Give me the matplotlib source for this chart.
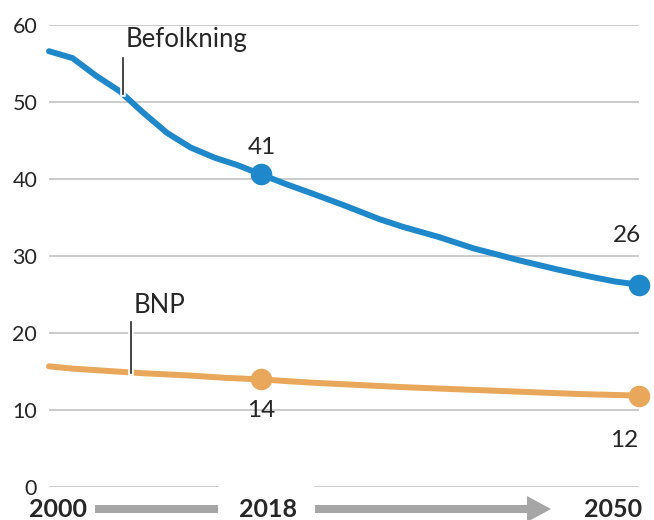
import matplotlib
matplotlib.use("Agg")
from matplotlib import pyplot as plt
from matplotlib import patheffects as pe
from matplotlib.patches import FancyArrow
from matplotlib.transforms import Affine2D

plt.rcParams['font.family'] = ['Lato', 'DejaVu Sans']

# Befolkning (population) and BNP (GDP) shares
pop_years = [2000, 2002, 2004, 2006, 2008, 2010, 2012, 2014, 2016, 2018,
             2020, 2022, 2025, 2028, 2030, 2033, 2036, 2040, 2043, 2046,
             2048, 2050]
pop_values = [56.6, 55.7, 53.4, 51.4, 48.6, 46.0, 44.1, 42.8, 41.8, 40.6,
              39.4, 38.3, 36.6, 34.8, 33.8, 32.5, 31.0, 29.4, 28.3, 27.3,
              26.7, 26.3]
gdp_years = [2000, 2002, 2005, 2008, 2012, 2015, 2018, 2022, 2026, 2030,
             2035, 2040, 2045, 2050]
gdp_values = [15.7, 15.4, 15.1, 14.8, 14.5, 14.2, 14.0, 13.6, 13.3, 13.0,
              12.7, 12.4, 12.1, 11.9]

marker_years = [2018, 2050]
pop_marks = [40.6, 26.3]
gdp_marks = [14.0, 11.9]
pop_labels = ["41", "26"]
gdp_labels = ["14", "12"]
yticks = [0, 10, 20, 30, 40, 50, 60]
period_labels = ["2000", "2018", "2050"]

BLUE = '#1f88ca'
ORANGE = '#e8a75b'
GRID = '#bdbdbd'
TEXT = '#262626'
ARROW = '#a6a6a6'

fig = plt.figure(figsize=(6.54, 5.2), dpi=100)
ax = fig.add_axes([49 / 654, 32.7 / 520, 590 / 654, 462.3 / 520])
px = Affine2D().scale(1 / 100) + fig.dpi_scale_trans  # pixel coords from bottom-left

ax.set_xlim(2000, 2050)
ax.set_ylim(0, 60)
for s in ax.spines.values():
    s.set_visible(False)
ax.set_xticks([])
ax.set_yticks(yticks)
ax.tick_params(axis='y', length=0, pad=8.5, labelsize=15.5, labelcolor=TEXT)

for t in yticks[1:]:
    ax.axhline(t, color=GRID, lw=1.1, zorder=1)
# zero line has a gap around the middle label
ax.axhline(0, xmin=0, xmax=(218 - 49) / 590, color=GRID, lw=1.1, zorder=1)
ax.axhline(0, xmin=(315 - 49) / 590, xmax=1, color=GRID, lw=1.1, zorder=1)

ax.plot(pop_years, pop_values, color=BLUE, lw=4.3, solid_capstyle='round',
        solid_joinstyle='round', zorder=3, clip_on=False)
ax.plot(gdp_years, gdp_values, color=ORANGE, lw=4.3, solid_capstyle='round',
        solid_joinstyle='round', zorder=3, clip_on=False)
ax.plot(marker_years, pop_marks, 'o', color=BLUE, ms=14.5, zorder=4, clip_on=False)
ax.plot(marker_years, gdp_marks, 'o', color=ORANGE, ms=14.5, zorder=4, clip_on=False)

# value labels
lbl = dict(fontsize=17.5, color=TEXT)
ax.text(marker_years[0], 43.2, pop_labels[0], ha='center', va='baseline', **lbl)
ax.text(2050.2, 31.8, pop_labels[1], ha='right', va='baseline', **lbl)
ax.text(marker_years[0], 9.1, gdp_labels[0], ha='center', va='baseline', **lbl)
ax.text(2049.9, 5.2, gdp_labels[1], ha='right', va='baseline', **lbl)

# series labels with small leader ticks
stroke = [pe.withStroke(linewidth=4, foreground='white')]
ax.plot([2006.3, 2006.3], [55.7, 51.0], color=TEXT, lw=1.2, zorder=5,
        path_effects=stroke)
ax.text(2006.5, 57.1, "Befolkning", ha='left', va='baseline', fontsize=18.5,
        color=TEXT)
ax.plot([2006.95, 2006.95], [21.4, 14.8], color=TEXT, lw=1.2, zorder=5,
        path_effects=stroke)
ax.text(2007.2, 22.6, "BNP", ha='left', va='baseline', fontsize=18.5,
        color=TEXT)

# period labels and arrows along the bottom
fig.text(29, 3, period_labels[0], transform=px, ha='left', va='baseline',
         fontsize=18, fontweight='bold', color=TEXT)
fig.text(268, 3, period_labels[1], transform=px, ha='center', va='baseline',
         fontsize=18, fontweight='bold', color=TEXT)
fig.text(642, 3, period_labels[2], transform=px, ha='right', va='baseline',
         fontsize=18, fontweight='bold', color=TEXT)

fig.add_artist(FancyArrow(95, 11, 123, 0, width=8, head_width=8, head_length=0,
                          transform=px, color=ARROW, lw=0))
fig.add_artist(FancyArrow(315, 11, 236, 0, width=8, head_width=26, head_length=24,
                          length_includes_head=True, transform=px, color=ARROW, lw=0))

fig.savefig('out.png', dpi=100)
